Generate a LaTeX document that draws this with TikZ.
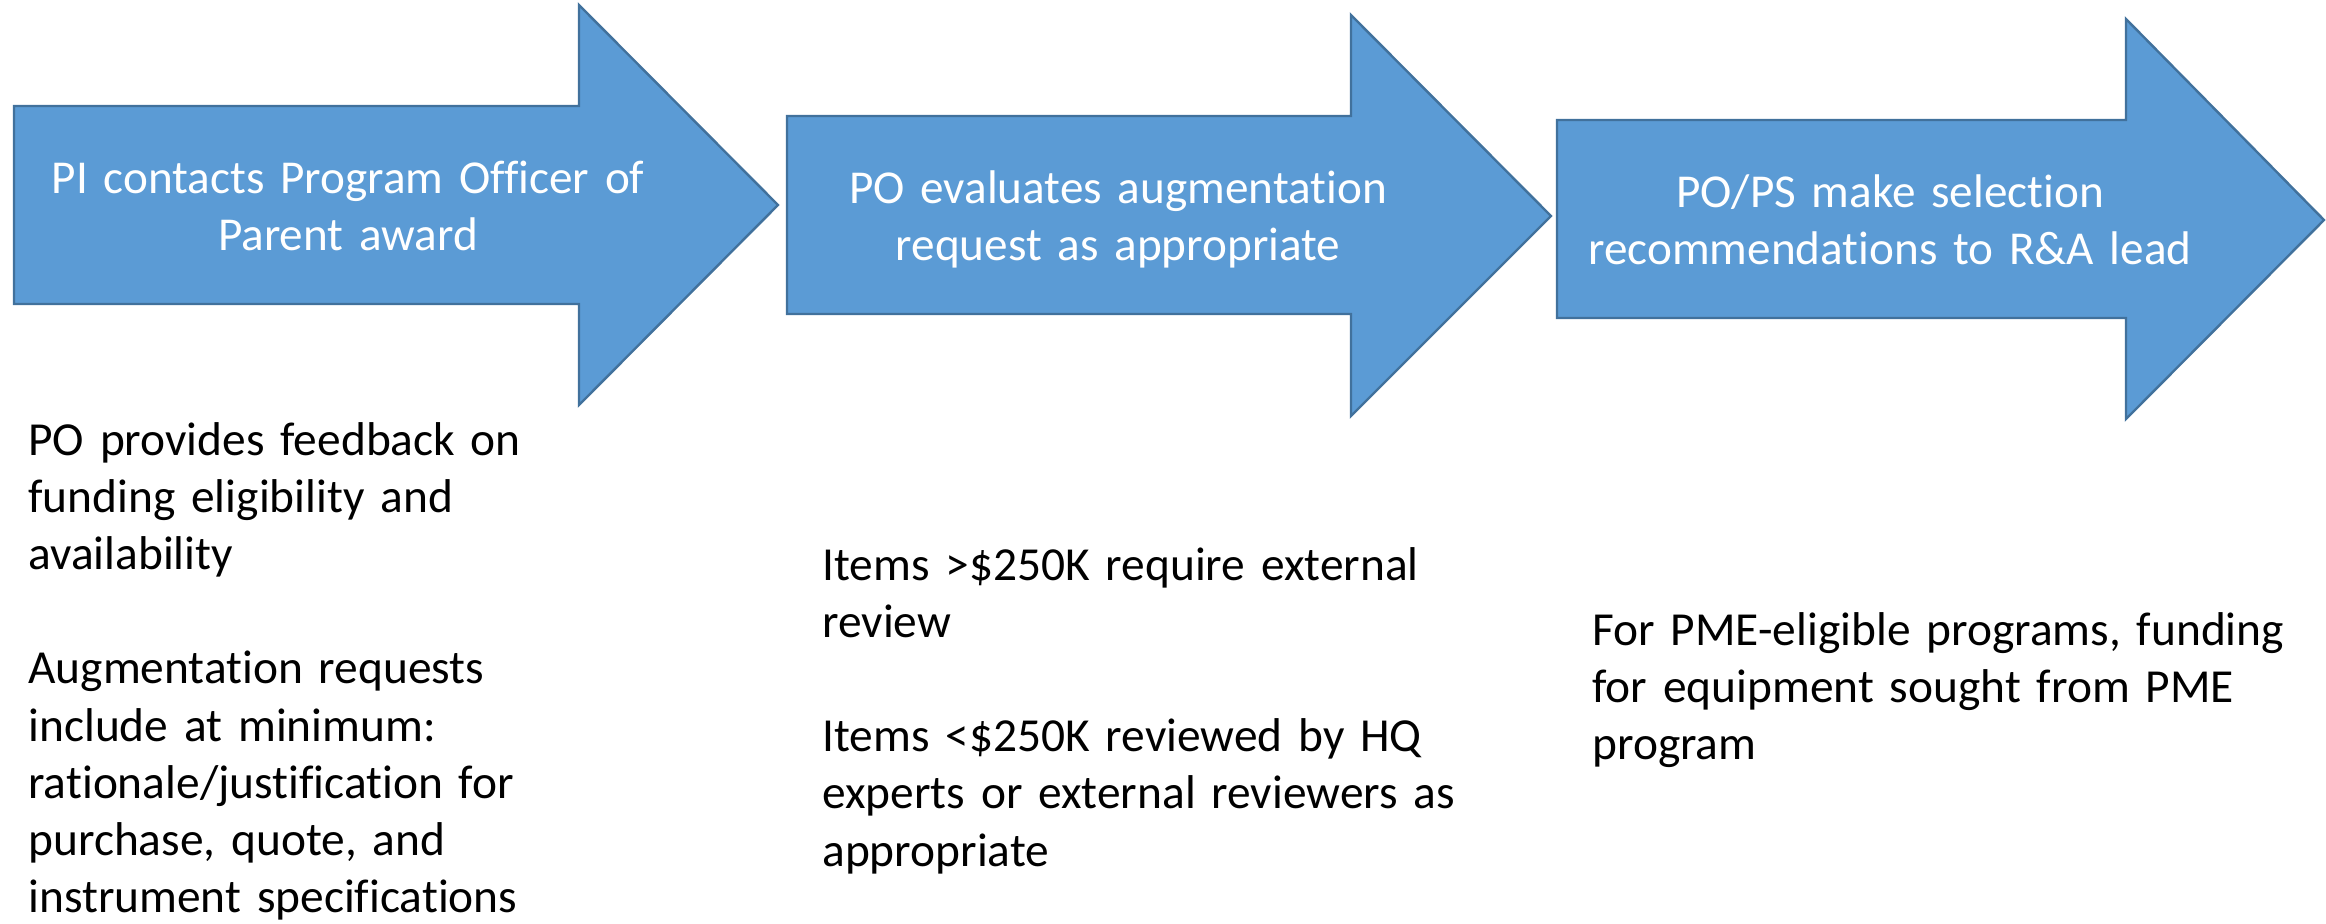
\documentclass[tikz,border=0pt]{standalone}
\usepackage{fontspec}
\setmainfont{Carlito}[Ligatures=NoCommon]
\usetikzlibrary{positioning}
\definecolor{stepblue}{RGB}{91,155,213}
\definecolor{stepedge}{RGB}{65,113,156}

\begin{document}
\begin{tikzpicture}[
      x=0.5pt, y=-0.5pt,
      blockarrow/.style={draw=stepedge, fill=stepblue, line width=1.2pt},
      steptext/.style={text=white, text width=330pt, align=center, anchor=base,
        inner sep=0pt, font=\fontsize{23.6}{28.6}\selectfont},
      note/.style={text=black, text width=360pt, align=left, anchor=base west,
        inner sep=0pt, font=\fontsize{23.7}{28.6}\selectfont}
    ]
      \useasboundingbox (0,0) rectangle (2326,923);

      % Process arrows
      \draw[blockarrow] (14,106) -- (579,106) -- (579,5) -- (778,205)
        -- (579,405) -- (579,304) -- (14,304) -- cycle;
      \draw[blockarrow] (787,116) -- (1351,116) -- (1351,15) -- (1551,216)
        -- (1351,416) -- (1351,314) -- (787,314) -- cycle;
      \draw[blockarrow] (1557,120) -- (2126,120) -- (2126,19) -- (2324,220)
        -- (2126,419) -- (2126,318) -- (1557,318) -- cycle;

      % Step labels
      \node[steptext] (contact) at (348,193) {PI contacts Program Officer of\\Parent award};
      \node[steptext] (evaluate) at (1118,203) {PO evaluates augmentation\\request as appropriate};
      \node[steptext] (select) at (1890,207) {PO/PS make selection\\recommendations to R\&A lead};

      % Notes under each step
      \node[note] (feedback) at (28,455) {PO provides feedback on\\funding eligibility and\\availability\\[28.6pt]
        Augmentation requests\\include at minimum:\\rationale/justification for\\purchase, quote, and\\instrument specifications};
      \node[note] (review) at (822,580) {Items >\$250K require external\\review\\[28.6pt]
        Items <\$250K reviewed by HQ\\experts or external reviewers as\\appropriate};
      \node[note] (pme) at (1592,645) {For PME-eligible programs, funding\\for equipment sought from PME\\program};
    \end{tikzpicture}
\end{document}
